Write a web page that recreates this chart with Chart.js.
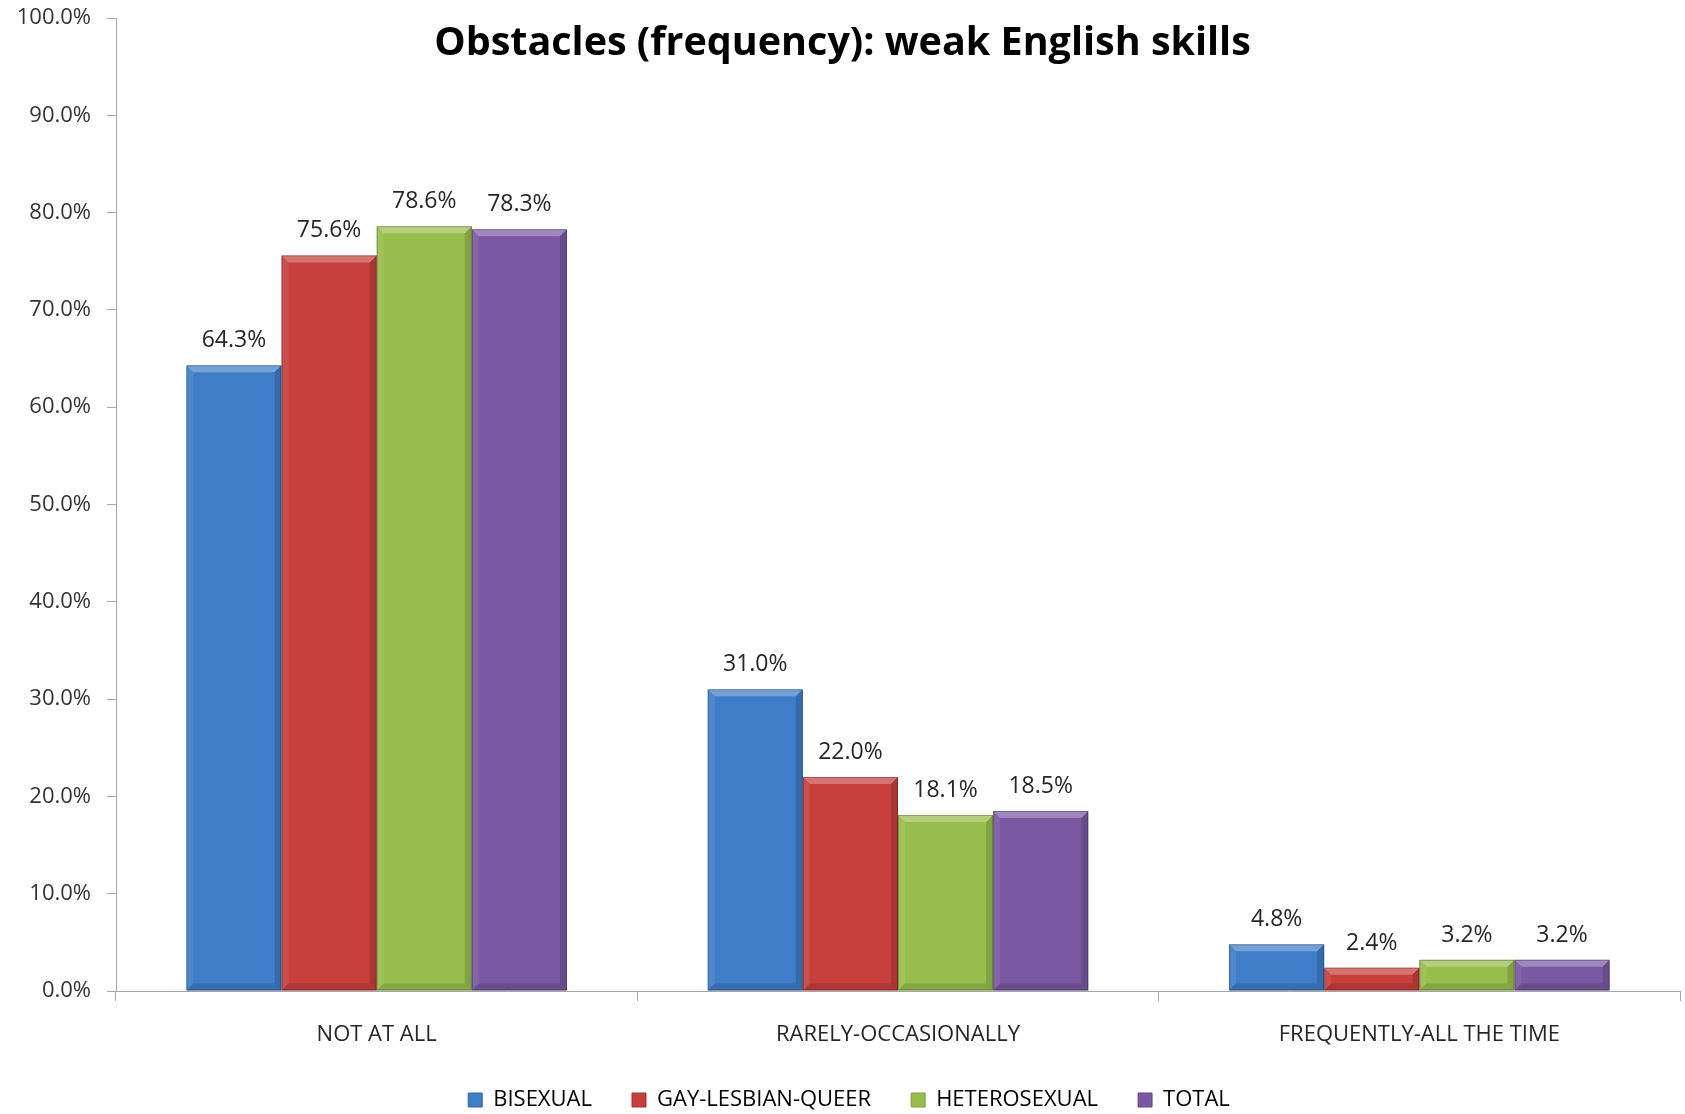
<!DOCTYPE html>
<html>
<head>
<meta charset="utf-8">
<script src="https://cdn.jsdelivr.net/npm/chart.js@4.4.0/dist/chart.umd.min.js"></script>
<style>
  html, body { margin: 0; padding: 0; background: #fff; }
  #wrap { width: 1685px; height: 1114px; position: relative; }
</style>
</head>
<body>
<div id="wrap"><canvas id="chart"></canvas></div>
<script>
// Chart data
const chartTitle = 'Obstacles (frequency): weak English skills';
const categories = ['NOT AT ALL', 'RARELY-OCCASIONALLY', 'FREQUENTLY-ALL THE TIME'];
const seriesNames = ['BISEXUAL', 'GAY-LESBIAN-QUEER', 'HETEROSEXUAL', 'TOTAL'];
const bisexual = [64.3, 31.0, 4.8];
const gayLesbianQueer = [75.6, 22.0, 2.4];
const heterosexual = [78.6, 18.1, 3.2];
const total = [78.3, 18.5, 3.2];
const yMin = 0, yMax = 100, yStep = 10;

// top / bottom shades for each series
const shades = [
    { top: '#4589dc', bottom: '#3364a4', legend: '#3f7dc8' },
    { top: '#d94542', bottom: '#a63432', legend: '#c63f3c' },
    { top: '#a6d053', bottom: '#7d9e3d', legend: '#98bd4c' },
    { top: '#8562b1', bottom: '#64488a', legend: '#7a58a2' }
];

const FONT = '"Open Sans", "DejaVu Sans", sans-serif';

function barFill(i) {
    return (c) => {
        const el = c.element;
        const area = c.chart.chartArea;
        if (!area || !el || el.base === undefined) return shades[i].legend;
        const g = c.chart.ctx.createLinearGradient(0, el.y, 0, el.base);
        g.addColorStop(0, shades[i].top);
        g.addColorStop(1, shades[i].bottom);
        return g;
    };
}

// bevel edges drawn on top of the bars
const bevelPlugin = {
    id: 'bevel',
    afterDatasetsDraw(chart) {
        const ctx = chart.ctx;
        chart.data.datasets.forEach((ds, i) => {
            chart.getDatasetMeta(i).data.forEach(bar => {
                const l = bar.x - bar.width / 2, r = bar.x + bar.width / 2;
                const t = bar.y, b = bar.base;
                const d = Math.min(7, (b - t) / 2);
                ctx.save();
                // top bevel
                ctx.fillStyle = 'rgba(255,255,255,0.28)';
                ctx.beginPath();
                ctx.moveTo(l, t); ctx.lineTo(r, t); ctx.lineTo(r - d, t + d); ctx.lineTo(l + d, t + d);
                ctx.closePath(); ctx.fill();
                // left bevel
                ctx.fillStyle = 'rgba(255,255,255,0.08)';
                ctx.beginPath();
                ctx.moveTo(l, t); ctx.lineTo(l + d, t + d); ctx.lineTo(l + d, b - d); ctx.lineTo(l, b);
                ctx.closePath(); ctx.fill();
                // right bevel
                ctx.fillStyle = 'rgba(0,0,0,0.14)';
                ctx.beginPath();
                ctx.moveTo(r, t); ctx.lineTo(r - d, t + d); ctx.lineTo(r - d, b - d); ctx.lineTo(r, b);
                ctx.closePath(); ctx.fill();
                // bottom bevel
                ctx.fillStyle = 'rgba(0,0,0,0.12)';
                ctx.beginPath();
                ctx.moveTo(l, b); ctx.lineTo(l + d, b - d); ctx.lineTo(r - d, b - d); ctx.lineTo(r, b);
                ctx.closePath(); ctx.fill();
                ctx.strokeStyle = 'rgba(0,0,0,0.25)';
                ctx.lineWidth = 1;
                ctx.strokeRect(l + 0.5, t + 0.5, bar.width - 1, b - t - 1);
                ctx.restore();
            });
        });
    }
};

// value labels above bars
const valueLabels = {
    id: 'valueLabels',
    afterDatasetsDraw(chart) {
        const ctx = chart.ctx;
        ctx.save();
        ctx.font = '23px ' + FONT;
        ctx.fillStyle = '#262626';
        ctx.textAlign = 'center';
        ctx.textBaseline = 'bottom';
        chart.data.datasets.forEach((ds, i) => {
            chart.getDatasetMeta(i).data.forEach((bar, j) => {
                ctx.fillText(ds.data[j].toFixed(1) + '%', bar.x, bar.y - 13);
            });
        });
        ctx.restore();
    }
};

// title drawn over the plot, centred on the canvas
const titleText = {
    id: 'titleText',
    afterDraw(chart) {
        const ctx = chart.ctx;
        ctx.save();
        ctx.font = 'bold 39.5px ' + FONT;
        ctx.fillStyle = '#000';
        ctx.textAlign = 'center';
        ctx.textBaseline = 'middle';
        ctx.fillText(chartTitle, chart.width / 2, 44);
        ctx.restore();
    }
};

const seriesValues = [bisexual, gayLesbianQueer, heterosexual, total];

const ctx = document.getElementById('chart').getContext('2d');
new Chart(ctx, {
    type: 'bar',
    data: {
        labels: categories,
        datasets: seriesNames.map((name, i) => ({
            label: name,
            data: seriesValues[i],
            backgroundColor: barFill(i),
            borderWidth: 0,
            categoryPercentage: 0.73,
            barPercentage: 1.0
        }))
    },
    options: {
        responsive: true,
        maintainAspectRatio: false,
        animation: false,
        layout: { padding: { top: 18, right: 5, left: 18, bottom: -7 } },
        scales: {
            y: {
                min: yMin, max: yMax,
                ticks: {
                    stepSize: yStep,
                    color: '#333',
                    font: { family: FONT, size: 22 },
                    padding: 16,
                    callback: v => v.toFixed(1) + '%'
                },
                grid: { drawOnChartArea: false, color: '#a6a6a6', tickLength: 9 },
                border: { color: '#a6a6a6' },
                afterFit: s => { s.width = 98; s.paddingTop = 0; s.paddingBottom = 0; }
            },
            x: {
                ticks: {
                    color: '#262626',
                    font: { family: FONT, size: 22 },
                    padding: 21
                },
                grid: { offset: true, drawOnChartArea: false, color: '#a6a6a6', tickLength: 10 },
                border: { color: '#a6a6a6' },
                afterFit: s => { s.height = 58; }
            }
        },
        plugins: {
            legend: {
                position: 'bottom',
                labels: {
                    color: '#262626',
                    font: { family: FONT, size: 22 },
                    boxWidth: 14,
                    boxHeight: 14,
                    padding: 40,
                    generateLabels: chart => seriesNames.map((name, i) => ({
                        text: name,
                        fillStyle: shades[i].legend,
                        strokeStyle: shades[i].bottom,
                        lineWidth: 1,
                        datasetIndex: i,
                        hidden: false
                    }))
                }
            },
            tooltip: { enabled: false }
        }
    },
    plugins: [bevelPlugin, valueLabels, titleText]
});
</script>
</body>
</html>
